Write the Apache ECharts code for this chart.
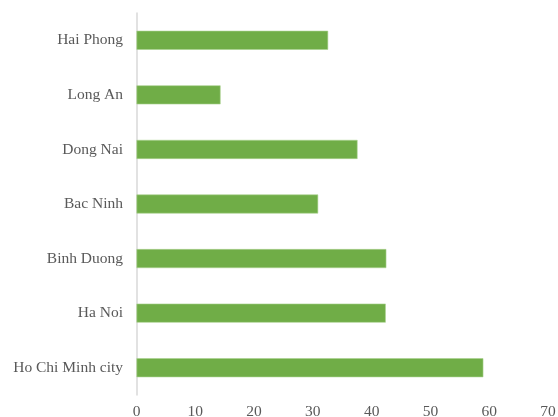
<!DOCTYPE html>
<html lang="en">
<head>
    <meta charset="UTF-8">
    <style>
        html, body { margin: 0; padding: 0; background: #fff; }
        #main { width: 558px; height: 417px; }
    </style>
    <script src="https://cdn.jsdelivr.net/npm/echarts@6/dist/echarts.min.js"></script>
</head>
<body>
    <div id="main"></div>
    <script>
        // bottom to top, as drawn on the category axis
        var cities = ['Ho Chi Minh city', 'Ha Noi', 'Binh Duong', 'Bac Ninh', 'Dong Nai', 'Long An', 'Hai Phong'];
        var values = [59.0, 42.4, 42.5, 30.9, 37.6, 14.3, 32.6];
        var xTicks = [0, 10, 20, 30, 40, 50, 60, 70];

        var myChart = echarts.init(document.getElementById('main'));
        var font = '"Liberation Serif", "Times New Roman", serif';
        var option = {
            animation: false,
            grid: {
                left: 136.5,
                right: 10,
                top: 13,
                bottom: 22,
                containLabel: false,
                outerBoundsMode: 'none'
            },
            xAxis: {
                type: 'value',
                min: xTicks[0],
                max: xTicks[xTicks.length - 1],
                interval: 10,
                axisLine: { show: false },
                axisTick: { show: false },
                splitLine: { show: false },
                axisLabel: {
                    margin: 9,
                    fontFamily: font,
                    fontSize: 15.5,
                    color: '#595959'
                }
            },
            yAxis: {
                type: 'category',
                data: cities,
                axisLine: { show: true, lineStyle: { color: '#d9d9d9', width: 1.5 } },
                axisTick: { show: false },
                axisLabel: {
                    margin: 13.5,
                    fontFamily: font,
                    fontSize: 15.5,
                    color: '#595959'
                }
            },
            series: [{
                type: 'bar',
                data: values,
                barWidth: 19,
                itemStyle: {
                    color: '#70ad47',
                    borderColor: '#a9d18e',
                    borderWidth: 0.6
                }
            }]
        };
        myChart.setOption(option);
    </script>
</body>
</html>
